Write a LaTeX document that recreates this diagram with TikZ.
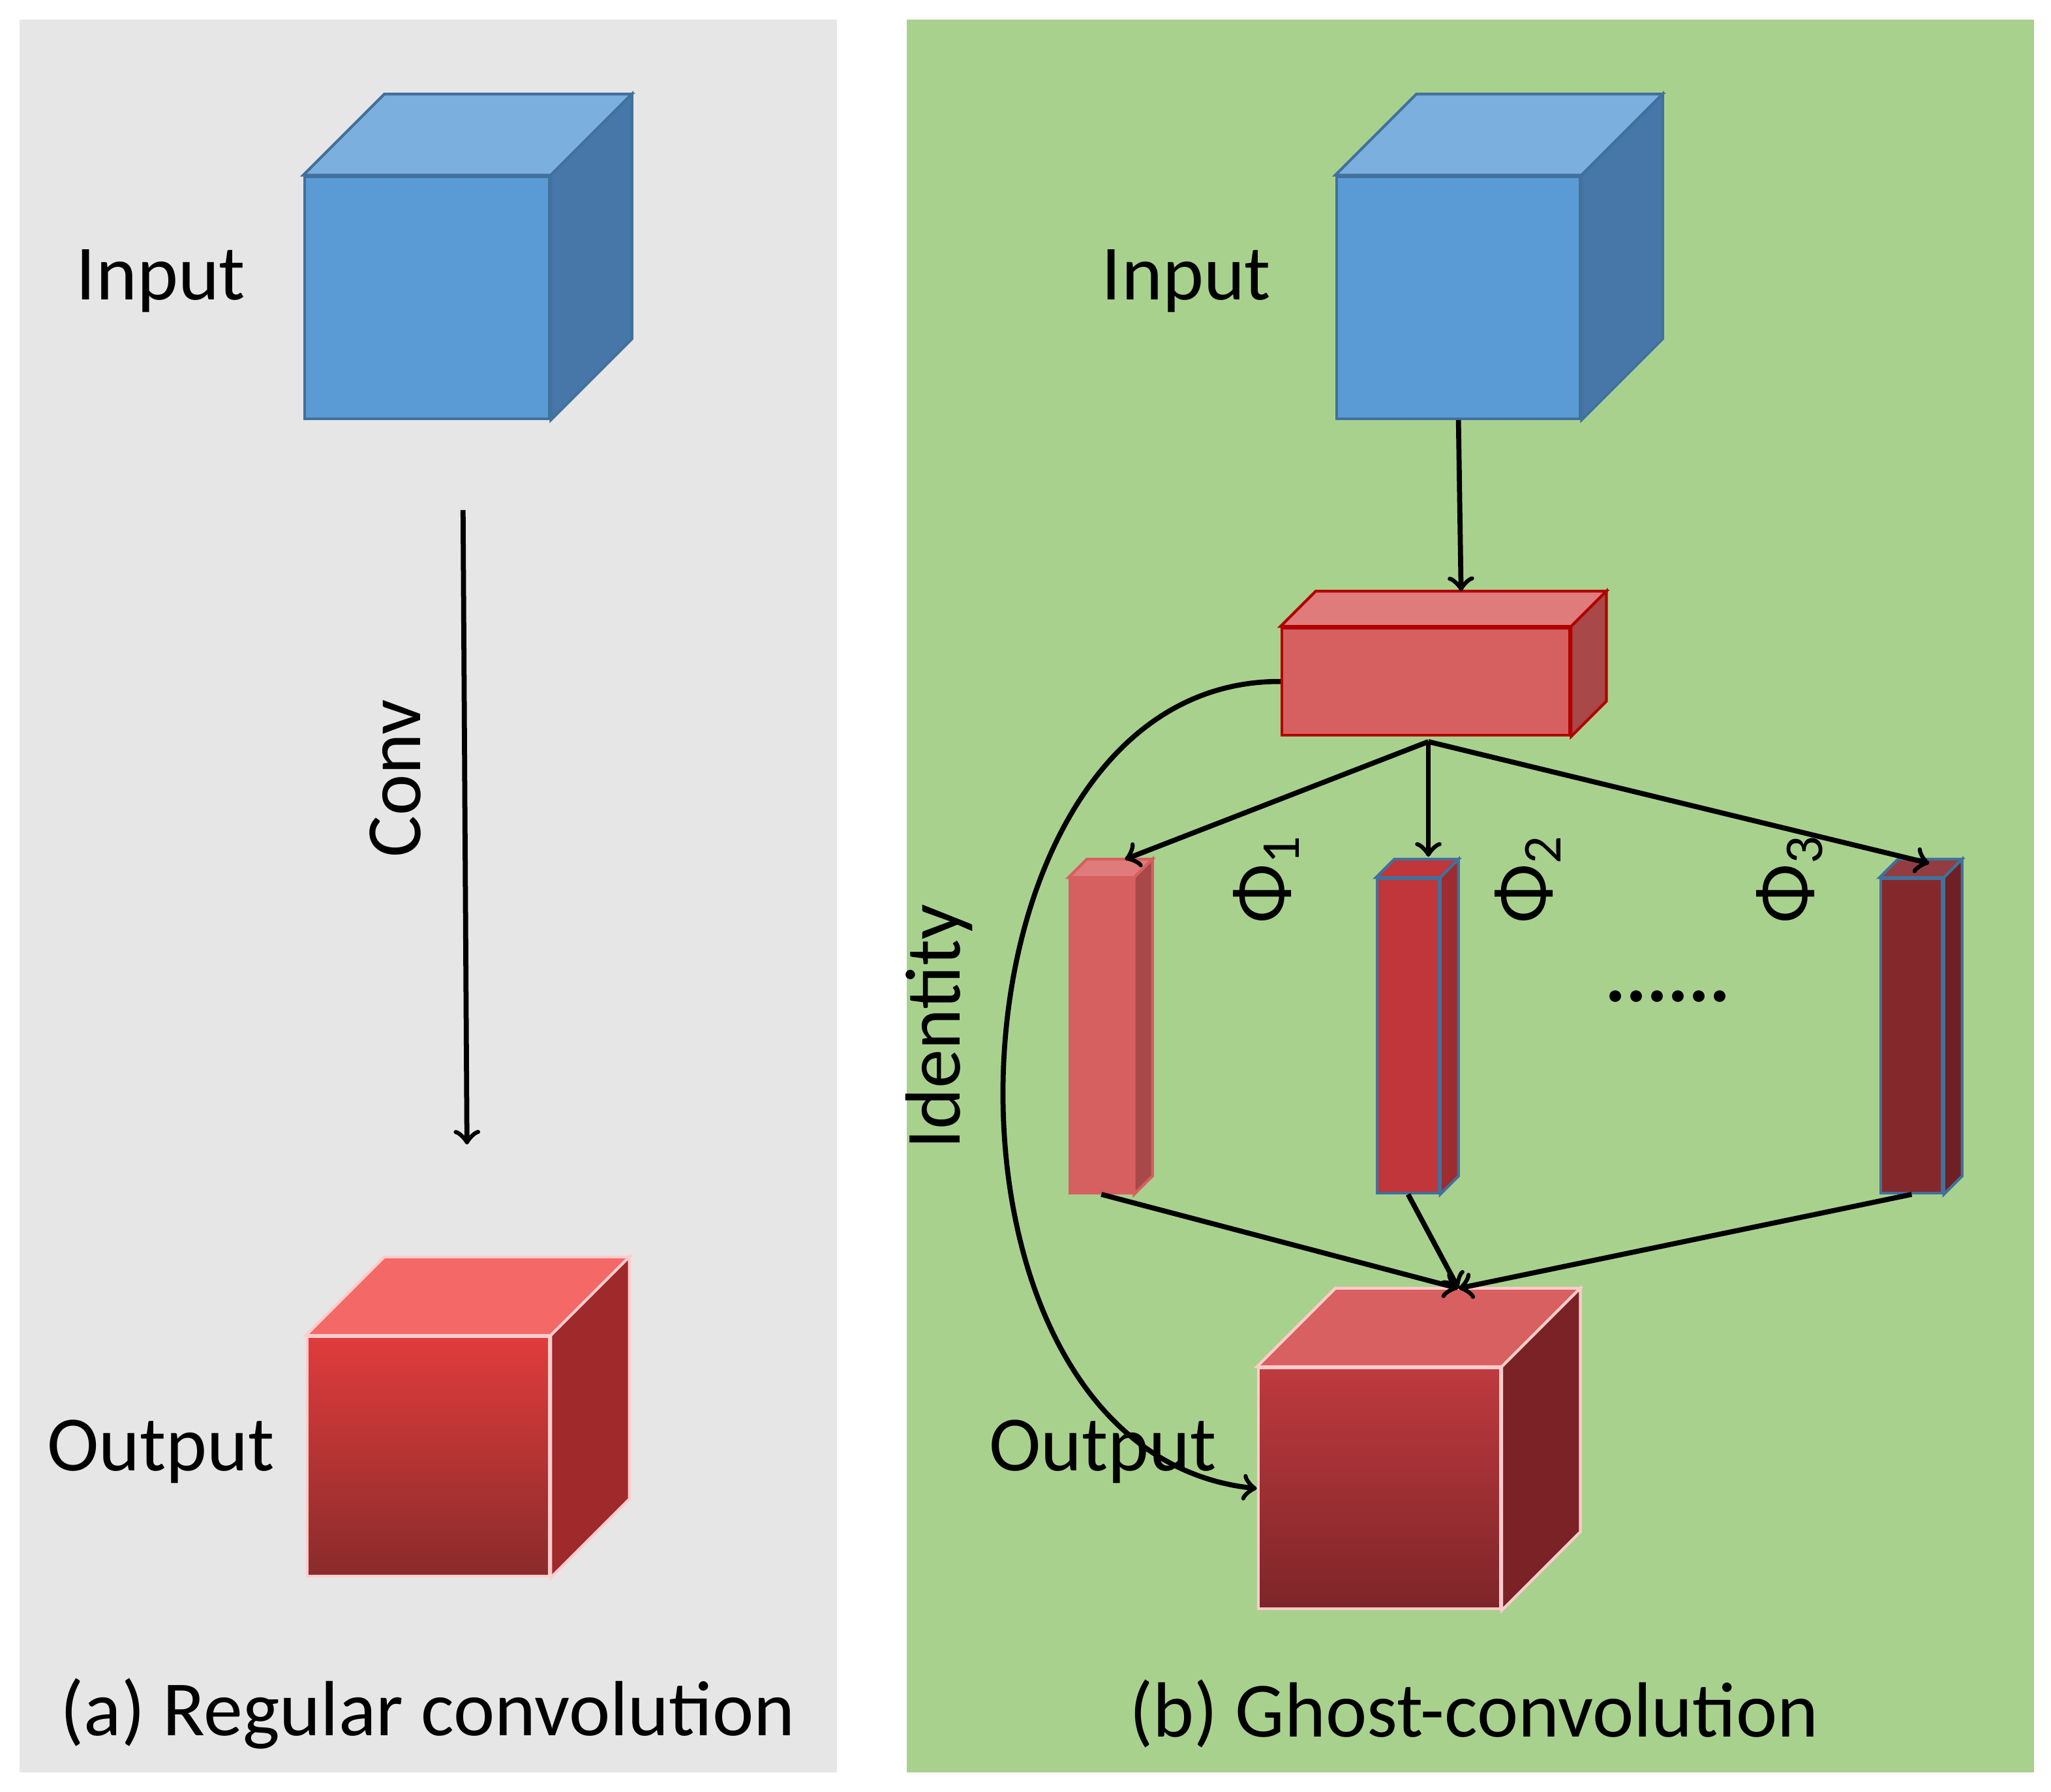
\documentclass[tikz,border=0pt]{standalone}
\usepackage{fontspec}
\setmainfont{Carlito}
\usetikzlibrary{positioning,calc}
\definecolor{panelgray}{HTML}{E6E6E6}
\definecolor{panelgreen}{HTML}{A9D18E}
\definecolor{bluefront}{HTML}{5B9BD5}
\definecolor{bluetop}{HTML}{7BAFDD}
\definecolor{blueside}{HTML}{4777A8}
\definecolor{blueedge}{HTML}{41719C}
\definecolor{redA}{HTML}{D65F5F}
\definecolor{redAtop}{HTML}{E07B7B}
\definecolor{redAside}{HTML}{A84848}
\definecolor{redB}{HTML}{C0363A}
\definecolor{redBside}{HTML}{9C2C30}
\definecolor{redC}{HTML}{85282C}
\definecolor{redCside}{HTML}{6E2024}
\definecolor{outAtop}{HTML}{F46868}
\definecolor{outAhi}{HTML}{E03C3C}
\definecolor{outAlo}{HTML}{8A2B2B}
\definecolor{outAside}{HTML}{A0292C}
\definecolor{outBtop}{HTML}{D86060}
\definecolor{outBhi}{HTML}{BE3A3E}
\definecolor{outBlo}{HTML}{7D2529}
\definecolor{outBside}{HTML}{7A2226}
\tikzset{
  lbl/.style={font=\fontsize{17}{20}\selectfont},
  face/.style={draw, line width=0.6pt, inner sep=0pt},
  arr/.style={->, line width=1.1pt, >=to}
}
% front face node, then top and side faces
\newcommand\boxfaces[5]{% name, depth, topcolor, sidecolor, edge
  \fill[#3, draw=#5, line width=0.6pt] (#1.north west) -- ++(#2,-#2) -- ($(#1.north east)+(#2,-#2)$) -- (#1.north east) -- cycle;
  \fill[#4, draw=#5, line width=0.6pt] (#1.north east) -- ++(#2,-#2) -- ($(#1.south east)+(#2,-#2)$) -- (#1.south east) -- cycle;
}
\begin{document}
\begin{tikzpicture}[x=0.01cm, y=-0.01cm]
\useasboundingbox (0,0) rectangle (1568,1370);
\fill[panelgray] (15,15) rectangle (640,1355);
\fill[panelgreen] (693,15) rectangle (1555,1355);

% regular convolution
\node[face, fill=bluefront, draw=blueedge, minimum width=1.87cm, minimum height=1.85cm] (inA) at (326.5,227.5) {};
\boxfaces{inA}{62}{bluetop}{blueside}{blueedge}
\node[face, draw=white!80!red, top color=outAhi, bottom color=outAlo, minimum width=1.85cm, minimum height=1.83cm] (outA) at (327.5,1113.5) {};
\boxfaces{outA}{60}{outAtop}{outAside}{white!80!red}
\node[lbl] (inAl) at (123,215) {Input};
\node[lbl] (outAl) at (123,1110) {Output};
\coordinate (convS) at (354,390);
\coordinate (convE) at (357,875);
\node[lbl, rotate=90] (convl) at (302,595) {Conv};
\draw[arr] (convS) -- (convE);
\node[lbl] (capA) at (327,1310) {(a) Regular convolution};

% ghost convolution
\node[face, fill=bluefront, draw=blueedge, minimum width=1.86cm, minimum height=1.85cm] (inB) at (1115,227.5) {};
\boxfaces{inB}{62}{bluetop}{blueside}{blueedge}
\node[lbl] (inBl) at (907,215) {Input};
\node[face, fill=redA, draw=red!70!black, minimum width=2.2cm, minimum height=0.82cm] (mid) at (1090,521) {};
\boxfaces{mid}{27}{redAtop}{redAside}{red!70!black}
\node[face, fill=redA, draw=redA, minimum width=0.48cm, minimum height=2.4cm] (g1) at (842,792) {};
\boxfaces{g1}{14}{redAtop}{redAside}{redA}
\node[face, fill=redB, draw=blueedge, minimum width=0.47cm, minimum height=2.4cm] (g2) at (1076.5,792) {};
\boxfaces{g2}{14}{redB}{redBside}{blueedge}
\node[face, fill=redC, draw=blueedge, minimum width=0.47cm, minimum height=2.4cm] (g3) at (1461.5,792) {};
\boxfaces{g3}{14}{redC!90!white}{redCside}{blueedge}
\node[face, draw=white!80!red, top color=outBhi, bottom color=outBlo, minimum width=1.85cm, minimum height=1.84cm] (outB) at (1054.5,1138) {};
\boxfaces{outB}{60}{outBtop}{outBside}{white!80!red}
\node[lbl] (outBl) at (843,1110) {Output};
\node[lbl, rotate=90] (p1) at (968,672) {Φ\textsubscript{1}};
\node[lbl, rotate=90] (p2) at (1168,672) {Φ\textsubscript{2}};
\node[lbl, rotate=90] (p3) at (1368,672) {Φ\textsubscript{3}};
\node[lbl] (dots) at (1275,762) {\textbf{......}};
\node[lbl, rotate=90] (idl) at (718,785) {Identity};
\node[lbl] (capB) at (1127,1310) {(b) Ghost-convolution};

\coordinate (midB) at (1092,567);
\coordinate (merge) at (1115,985);
\draw[arr] (inB.south) -- ($(mid.north)+(27,-27)$);
\draw[arr] (midB) -- (860,657);
\draw[arr] (midB) -- (1092,655);
\draw[arr] (midB) -- (1475,660);
\draw[arr] (g1.south) -- (merge);
\draw[arr] (g2.south) -- (merge);
\draw[arr] (g3.south) -- (merge);
\draw[arr] (mid.west) .. controls (710,520) and (690,1110) .. (outB.west);
\end{tikzpicture}
\end{document}
